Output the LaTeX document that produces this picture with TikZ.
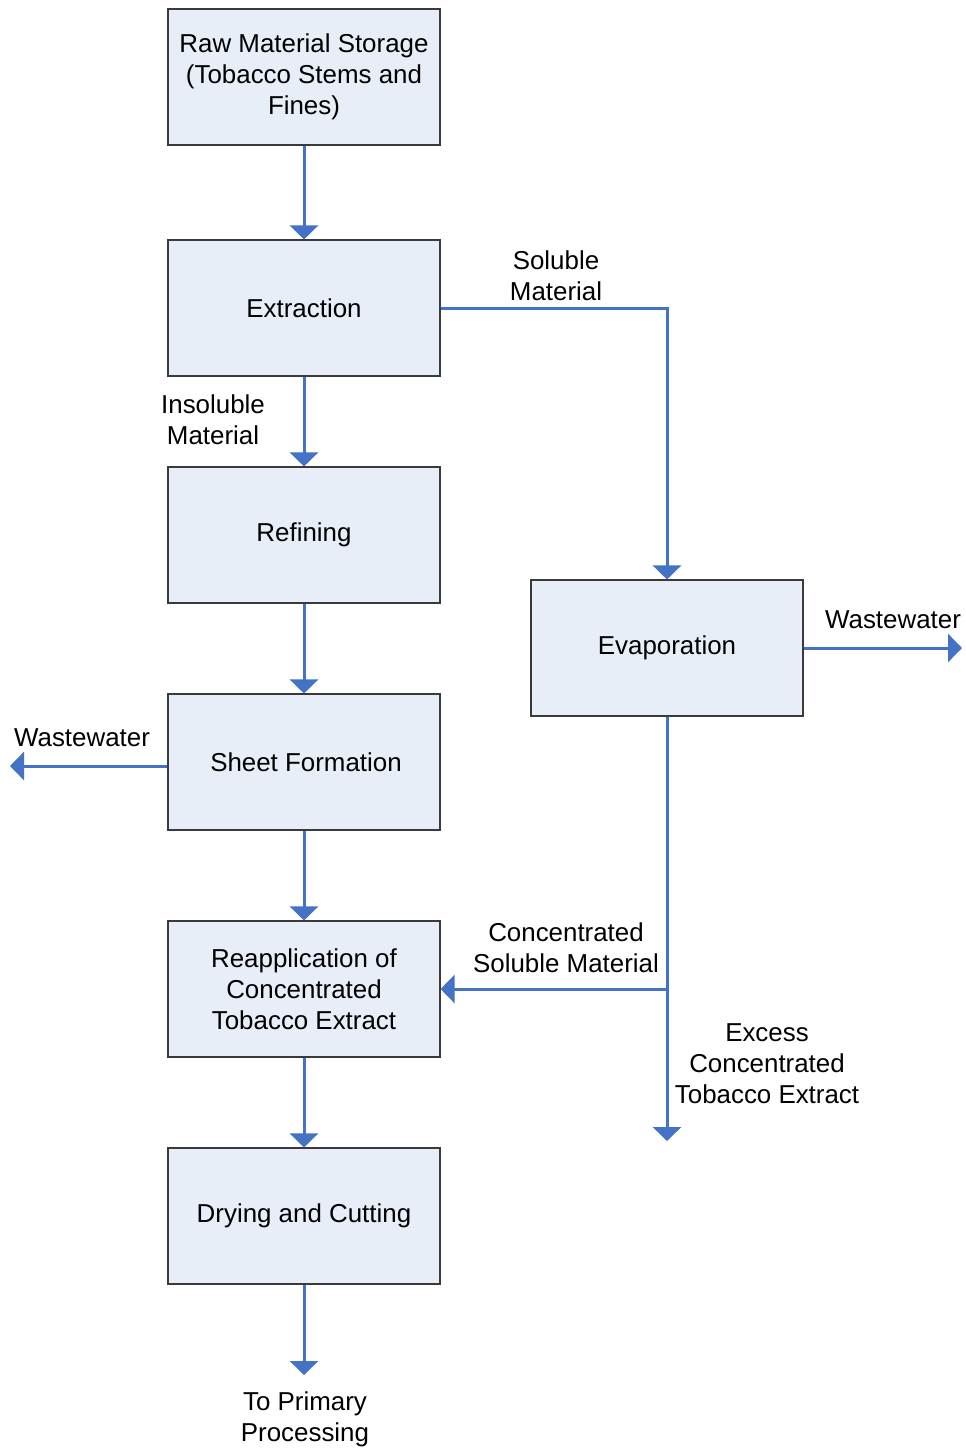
\documentclass[tikz,border=0pt]{standalone}
\usepackage{fontspec}
\setmainfont{Liberation Sans}
\usetikzlibrary{arrows.meta}
\definecolor{flow}{HTML}{4472C4}
\definecolor{boxfill}{HTML}{E8EEF8}
\definecolor{boxline}{HTML}{3A3A3A}
\begin{document}
\begin{tikzpicture}[x=1pt,y=-1pt,
  font=\fontsize{25.9pt}{31pt}\selectfont,
  procbox/.style={draw=boxline,line width=1.1pt,fill=boxfill,minimum width=272pt,minimum height=136pt,align=center,inner sep=0pt},
  lbl/.style={align=center,inner sep=0pt},
  flowline/.style={draw=flow,line width=3pt},
  flowarrow/.style={flowline,-{Triangle[width=28pt,length=14pt]}}]
\useasboundingbox (0,0) rectangle (966,1451);
\node[procbox] (raw) at (304,77) {Raw Material Storage\\(Tobacco Stems and\\Fines)};
\node[procbox] (ext) at (304,308) {Extraction};
\node[procbox] (ref) at (304,535) {\raisebox{-2pt}{Refining}};
\node[procbox] (sheet) at (304,762) {\hspace*{4pt}Sheet Formation};
\node[procbox] (reapp) at (304,989) {Reapplication of\\Concentrated\\Tobacco Extract};
\node[procbox] (dry) at (304,1216) {\raisebox{-1pt}{Drying and Cutting}};
\node[procbox] (evap) at (667,648) {\raisebox{-2pt}{Evaporation}};
\coordinate (outdry) at (304,1375);
\coordinate (outevap) at (962,648);
\coordinate (outsheet) at (10,766);
\coordinate (outexcess) at (667,1141);
\coordinate (branch) at (667,989);
\coordinate (corner) at (667,308);
\draw[flowarrow] (raw) -- (ext);
\draw[flowarrow] (ext) -- (ref);
\draw[flowarrow] (ref) -- (sheet);
\draw[flowarrow] (sheet) -- (reapp);
\draw[flowarrow] (reapp) -- (dry);
\draw[flowarrow] (dry) -- (outdry);
\draw[flowarrow] (ext.east) -- (corner) -- (evap.north);
\draw[flowarrow] (evap.east) -- (outevap);
\draw[flowarrow] (sheet.west |- outsheet) -- (outsheet);
\draw[flowarrow] (evap.south) -- (outexcess);
\draw[flowarrow] (branch) -- (reapp.east);
\node[lbl] (l1) at (556,276) {Soluble\\Material};
\node[lbl] (l2) at (213,420) {Insoluble\\Material};
\node[lbl] (l3) at (893,620) {Wastewater};
\node[lbl] (l4) at (82,738) {Wastewater};
\node[lbl] (l5) at (566,948) {Concentrated\\Soluble Material};
\node[lbl] (l6) at (767,1064) {Excess\\Concentrated\\Tobacco Extract};
\node[lbl] (l7) at (305,1419) {To Primary\\Processing};
\end{tikzpicture}
\end{document}
